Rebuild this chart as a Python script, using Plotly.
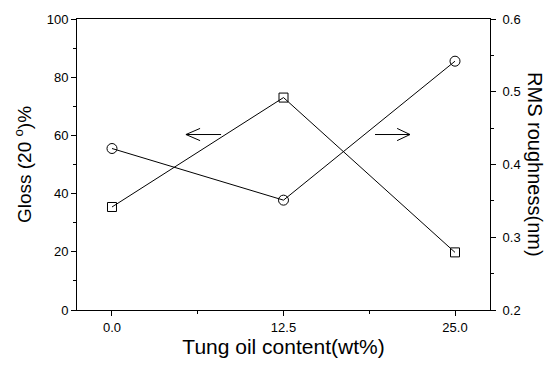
import plotly.graph_objects as go

tung_oil = [0.0, 12.5, 25.0]
gloss = [35.4, 73.0, 19.8]
rms = [0.422, 0.351, 0.542]
x_ticks = [0.0, 12.5, 25.0]
x_tick_labels = ["0.0", "12.5", "25.0"]

fig = go.Figure()
fig.add_trace(go.Scatter(
    x=tung_oil, y=gloss, mode="lines+markers",
    line=dict(color="black", width=1),
    marker=dict(symbol="square-open", size=9, color="black", line=dict(width=1)),
    showlegend=False))
fig.add_trace(go.Scatter(
    x=tung_oil, y=rms, mode="lines+markers", yaxis="y2",
    line=dict(color="black", width=1),
    marker=dict(symbol="circle-open", size=10, color="black", line=dict(width=1)),
    showlegend=False))

font = dict(family="Liberation Sans, Arial, sans-serif", color="black")

fig.update_layout(
    width=554, height=371,
    margin=dict(l=77, r=64, t=19, b=61, autoexpand=False),
    paper_bgcolor="white", plot_bgcolor="white",
    font=font,
    xaxis=dict(range=[-2.55, 27.55], tickvals=x_ticks, ticktext=x_tick_labels,
               automargin=False,
               showgrid=False, zeroline=False, showline=True, linecolor="black",
               linewidth=1, mirror=True, ticks="outside", ticklen=5, tickcolor="black",
               tickfont=dict(size=13, **font),
               minor=dict(ticks="outside", ticklen=3, tick0=0, dtick=6.25, tickcolor="black"),
               title=dict(text="Tung oil content(wt%)", font=dict(size=21, **font), standoff=0)),
    yaxis=dict(range=[0, 100], tickvals=[0, 20, 40, 60, 80, 100],
               automargin=False,
               showgrid=False, zeroline=False, showline=True, linecolor="black",
               linewidth=1, ticks="outside", ticklen=5, tickcolor="black",
               tickfont=dict(size=13, **font),
               minor=dict(ticks="outside", ticklen=3, tick0=0, dtick=10, tickcolor="black"),
               title=dict(text="Gloss (20 <sup>o</sup>)%", font=dict(size=19, **font), standoff=10)),
    yaxis2=dict(range=[0.2, 0.6], tickvals=[0.2, 0.3, 0.4, 0.5, 0.6], ticktext=["0.2", "0.3", "0.4", "0.5", "0.6"],
                overlaying="y", side="right", automargin=False,
                showgrid=False, zeroline=False, showline=True, linecolor="black",
                linewidth=1, ticks="outside", ticklen=5, tickcolor="black",
                ticklabelstandoff=4,
                tickfont=dict(size=13, **font),
                minor=dict(ticks="outside", ticklen=3, tick0=0.2, dtick=0.05, tickcolor="black")),
)

fig.add_annotation(x=1.11, y=0.5, xref="paper", yref="paper", xanchor="center", yanchor="middle",
                   text="RMS roughness(nm)",
                   textangle=90, showarrow=False, font=dict(size=20, **font))

# arrows indicating which axis each curve belongs to
arrow_y = 60.3
left_tip, left_tail, left_back = 5.39, 7.95, 6.42
right_tip, right_tail, right_back = 21.72, 19.17, 20.78
head_half = 2.1
for tip, tail, back in [(left_tip, left_tail, left_back), (right_tip, right_tail, right_back)]:
    fig.add_shape(type="line", xref="x", yref="y", x0=tail, y0=arrow_y, x1=tip, y1=arrow_y,
                  line=dict(color="black", width=1))
    fig.add_shape(type="path", xref="x", yref="y",
                  path=f"M {back} {arrow_y + head_half} L {tip} {arrow_y} L {back} {arrow_y - head_half}",
                  line=dict(color="black", width=1))

fig.write_html("out.html", config={"displayModeBar": False},
               post_script="document.body.style.margin='0';")
